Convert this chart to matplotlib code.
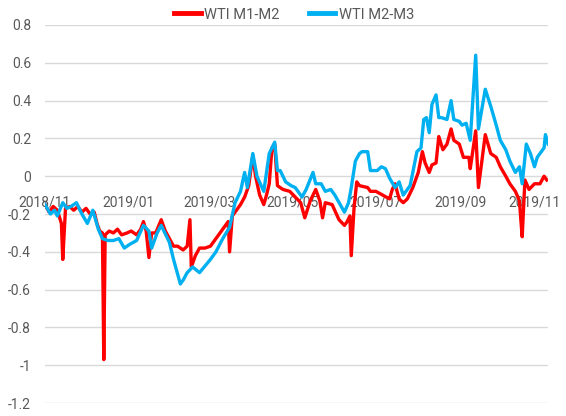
import matplotlib
matplotlib.use("Agg")
import matplotlib.pyplot as plt
import matplotlib.transforms as mtransforms
import pandas as pd

plt.rcParams['font.family'] = ['Roboto', 'DejaVu Sans']

m1m2_dates = ["2018-11-01","2018-11-04","2018-11-07","2018-11-10","2018-11-13","2018-11-14","2018-11-16",
    "2018-11-19","2018-11-22","2018-11-25","2018-11-28","2018-12-01","2018-12-04","2018-12-07","2018-12-09",
    "2018-12-11","2018-12-13","2018-12-14","2018-12-15","2018-12-18","2018-12-21","2018-12-24","2018-12-27",
    "2018-12-31","2019-01-03","2019-01-07","2019-01-10","2019-01-12","2019-01-14","2019-01-16","2019-01-18",
    "2019-01-21","2019-01-25","2019-01-28","2019-01-31","2019-02-03","2019-02-06","2019-02-10","2019-02-13",
    "2019-02-15","2019-02-16","2019-02-19","2019-02-22","2019-02-26","2019-03-02","2019-03-06","2019-03-09",
    "2019-03-12","2019-03-15","2019-03-16","2019-03-18","2019-03-21","2019-03-24","2019-03-27","2019-03-30",
    "2019-04-02","2019-04-04","2019-04-07","2019-04-10","2019-04-12","2019-04-14","2019-04-16","2019-04-18",
    "2019-04-20","2019-04-24","2019-04-29","2019-05-03","2019-05-07","2019-05-10","2019-05-14","2019-05-18",
    "2019-05-21","2019-05-23","2019-05-25","2019-05-30","2019-06-04","2019-06-08","2019-06-10","2019-06-12",
    "2019-06-13","2019-06-15","2019-06-17","2019-06-19","2019-06-25","2019-06-27","2019-07-01","2019-07-06",
    "2019-07-11","2019-07-13","2019-07-15","2019-07-18","2019-07-21","2019-07-24","2019-07-28","2019-08-01",
    "2019-08-04","2019-08-06","2019-08-09","2019-08-11","2019-08-14","2019-08-16","2019-08-19","2019-08-22",
    "2019-08-25","2019-08-27","2019-08-31","2019-09-03","2019-09-07","2019-09-08","2019-09-12","2019-09-14",
    "2019-09-19","2019-09-23","2019-09-27","2019-09-30","2019-10-04","2019-10-07","2019-10-11","2019-10-14",
    "2019-10-15","2019-10-16","2019-10-18","2019-10-21","2019-10-25","2019-10-29","2019-11-01","2019-11-03"]
m1m2_values = [-0.15,-0.19,-0.16,-0.18,-0.25,-0.44,-0.17,
    -0.16,-0.18,-0.16,-0.19,-0.17,-0.20,-0.19,-0.25,
    -0.29,-0.30,-0.97,-0.31,-0.29,-0.30,-0.28,-0.31,
    -0.30,-0.29,-0.31,-0.28,-0.24,-0.29,-0.43,-0.30,
    -0.30,-0.23,-0.29,-0.33,-0.37,-0.37,-0.39,-0.37,
    -0.23,-0.48,-0.42,-0.38,-0.38,-0.37,-0.33,-0.30,
    -0.27,-0.24,-0.40,-0.21,-0.18,-0.15,-0.11,-0.05,
    0.11,0.00,-0.10,-0.15,-0.10,-0.04,0.15,0.17,
    -0.05,-0.07,-0.08,-0.11,-0.14,-0.22,-0.13,-0.07,
    -0.13,-0.22,-0.14,-0.15,-0.23,-0.26,-0.24,-0.21,
    -0.42,-0.17,-0.03,-0.05,-0.06,-0.08,-0.08,-0.10,
    -0.12,-0.07,-0.04,-0.12,-0.14,-0.12,-0.06,0.02,
    0.13,0.07,0.02,0.06,0.07,0.21,0.14,0.17,
    0.25,0.19,0.17,0.10,0.10,0.04,0.24,-0.06,
    0.22,0.12,0.10,0.05,0.00,-0.04,-0.08,-0.13,
    -0.23,-0.32,-0.02,-0.07,-0.04,-0.04,0.00,-0.02]

m2m3_dates = ["2018-11-01","2018-11-05","2018-11-08","2018-11-10","2018-11-14","2018-11-17","2018-11-20",
    "2018-11-24","2018-11-28","2018-12-02","2018-12-06","2018-12-10","2018-12-13","2018-12-17","2018-12-21",
    "2018-12-25","2018-12-29","2019-01-02","2019-01-07","2019-01-12","2019-01-16","2019-01-18","2019-01-22",
    "2019-01-25","2019-01-31","2019-02-03","2019-02-08","2019-02-10","2019-02-13","2019-02-17","2019-02-22",
    "2019-03-02","2019-03-06","2019-03-11","2019-03-16","2019-03-20","2019-03-24","2019-03-27","2019-03-29",
    "2019-04-02","2019-04-05","2019-04-10","2019-04-14","2019-04-18","2019-04-20","2019-04-22","2019-04-26",
    "2019-04-30","2019-05-03","2019-05-08","2019-05-11","2019-05-16","2019-05-18","2019-05-22","2019-05-25",
    "2019-05-29","2019-06-01","2019-06-08","2019-06-11","2019-06-13","2019-06-16","2019-06-19","2019-06-21",
    "2019-06-25","2019-06-27","2019-07-02","2019-07-05","2019-07-08","2019-07-11","2019-07-15","2019-07-18",
    "2019-07-21","2019-07-26","2019-07-28","2019-07-31","2019-08-03","2019-08-05","2019-08-07","2019-08-09",
    "2019-08-11","2019-08-14","2019-08-16","2019-08-18","2019-08-22","2019-08-25","2019-08-27","2019-08-31",
    "2019-09-02","2019-09-05","2019-09-08","2019-09-12","2019-09-14","2019-09-19","2019-09-23","2019-09-27",
    "2019-09-30","2019-10-04","2019-10-07","2019-10-11","2019-10-14","2019-10-16","2019-10-19","2019-10-22",
    "2019-10-25","2019-10-27","2019-11-01","2019-11-02","2019-11-04"]
m2m3_values = [-0.15,-0.20,-0.18,-0.21,-0.14,-0.17,-0.16,
    -0.14,-0.20,-0.25,-0.18,-0.28,-0.33,-0.34,-0.34,
    -0.33,-0.38,-0.36,-0.34,-0.26,-0.29,-0.38,-0.30,
    -0.26,-0.35,-0.44,-0.57,-0.55,-0.51,-0.48,-0.51,
    -0.44,-0.40,-0.33,-0.27,-0.14,-0.08,0.02,-0.06,
    0.12,0.00,-0.08,0.12,0.18,0.03,0.03,-0.03,
    -0.05,-0.06,-0.11,-0.07,0.02,-0.04,-0.04,-0.08,
    -0.07,-0.10,-0.19,-0.14,-0.06,0.08,0.12,0.13,
    0.13,0.03,0.03,0.05,0.04,-0.01,-0.06,-0.03,
    -0.10,-0.05,0.02,0.13,0.15,0.30,0.31,0.23,
    0.38,0.43,0.31,0.31,0.30,0.40,0.30,0.29,
    0.27,0.28,0.19,0.64,0.25,0.46,0.37,0.27,
    0.19,0.14,0.08,0.02,0.05,-0.04,0.17,0.12,
    0.05,0.10,0.15,0.22,0.17]

y_ticks = [0.8, 0.6, 0.4, 0.2, 0, -0.2, -0.4, -0.6, -0.8, -1, -1.2]
x_tick_dates = ["2018-11-01","2019-01-01","2019-03-01","2019-05-01","2019-07-01","2019-09-01","2019-11-01"]
x_tick_labels = ["2018/11","2019/01","2019/03","2019/05","2019/07","2019/09","2019/11"]

fig = plt.figure(figsize=(5.66, 4.16), dpi=100)
ax = fig.add_axes([0.0795, 0.031, 0.889, 0.909])

ax.plot(pd.to_datetime(m1m2_dates), m1m2_values, color="#FF0000", lw=2.4, label="WTI M1-M2", zorder=3)
ax.plot(pd.to_datetime(m2m3_dates), m2m3_values, color="#00B0F0", lw=2.4, label="WTI M2-M3", zorder=4)

ax.set_ylim(-1.2, 0.8)
ax.set_xlim(pd.Timestamp("2018-11-01"), pd.Timestamp("2019-11-04"))
ax.set_yticks(y_ticks)
ax.set_yticklabels([f"{v:g}" for v in y_ticks])
ax.set_xticks(pd.to_datetime(x_tick_dates))
ax.set_xticklabels(x_tick_labels)

ax.grid(axis="y", color="#d9d9d9", lw=1)
ax.set_axisbelow(True)
for s in ["top", "right", "left"]:
    ax.spines[s].set_visible(False)
ax.spines["bottom"].set_position(("data", 0))
ax.spines["bottom"].set_visible(False)
ax.tick_params(axis="both", length=0, colors="#595959", labelsize=10)
ax.tick_params(axis="x", pad=14)
ax.tick_params(axis="y", pad=10)

# keep the last date label inside the figure edge
last = ax.get_xticklabels()[-1]
last.set_horizontalalignment("right")
last.set_transform(last.get_transform() + mtransforms.ScaledTranslation(0.17, 0, fig.dpi_scale_trans))

leg = fig.legend(loc="center", bbox_to_anchor=(0.52, 0.965), ncol=2, frameon=False,
                 fontsize=10.5, handlelength=1.8, columnspacing=2.0, handletextpad=0.25)
for t in leg.get_texts():
    t.set_color("#595959")
for h in leg.get_lines():
    h.set_linewidth(3.5)

fig.savefig("out.png", dpi=100)
